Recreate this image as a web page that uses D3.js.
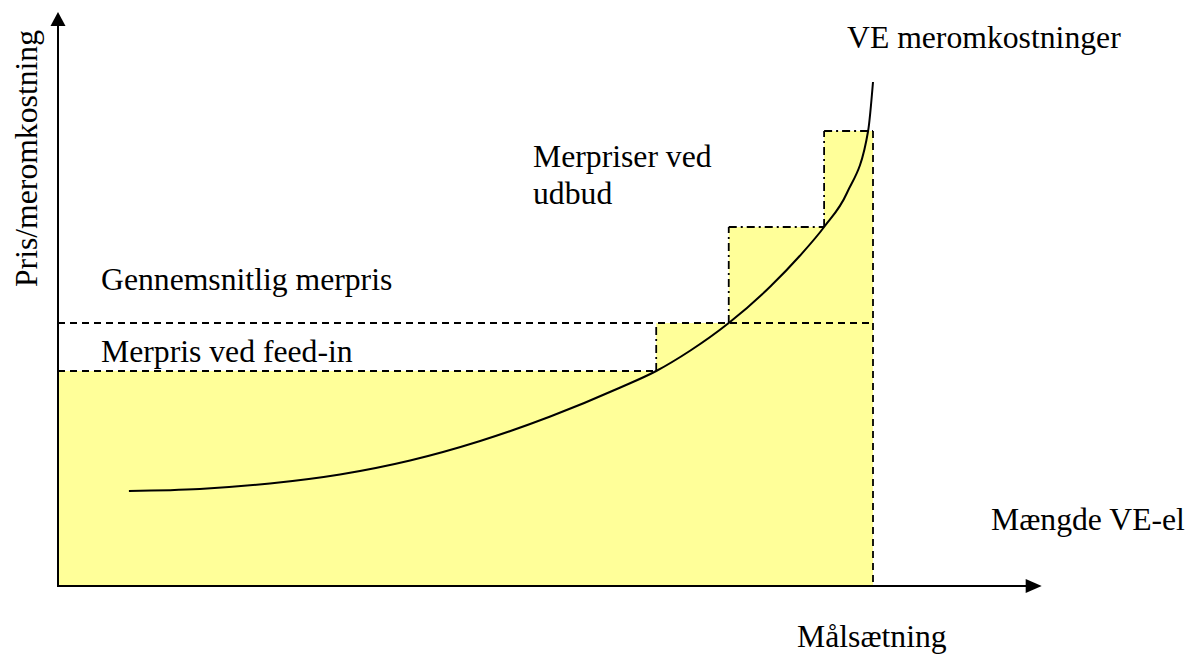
<!DOCTYPE html>
<html><head><meta charset="utf-8">
<script src="https://cdn.jsdelivr.net/npm/d3@7"></script>
<style>
html,body{margin:0;padding:0;background:#fff;}
svg text{font-family:"Liberation Serif","DejaVu Serif",serif;font-size:31.7px;fill:#000;}
</style></head>
<body><svg id="c" width="1195" height="657"></svg>
<script>
// Curve: VE meromkostninger (quantity, extra cost)
const curveX = [8.7, 17.4, 26.0, 34.6, 43.2, 51.8, 60.4, 69.0, 73.4, 77.6, 82.3, 87.4, 91.0, 94.0, 96.8, 99.4, 100];
const curveY = [19.0, 19.4, 20.5, 22.3, 25.1, 29.0, 33.9, 39.7, 43.0, 47.1, 52.6, 59.9, 66.0, 71.8, 78.6, 91.0, 100.8];
// Feed-in price and average price
const feedInPrice = 43;
const averagePrice = 52.6;
// Tender steps: start, end, price
const stepStart = [73.4, 82.3, 94];
const stepEnd   = [82.3, 94, 100];
const stepPrice = [52.6, 71.8, 91];
const target = 100;          // Målsætning
const feedInEnd = 73.4;
const axisMaxX = 120.7, axisMaxY = 114.8;
const labels = ["Pris/meromkostning","Mængde VE-el","Målsætning","VE meromkostninger","Merpriser ved","udbud","Gennemsnitlig merpris","Merpris ved feed-in"];

const svg = d3.select("#c");
const x = d3.scaleLinear().domain([0,100]).range([58,873]);
const y = d3.scaleLinear().domain([0,100]).range([586,86]);

// Yellow filled area
const fillPts = [[0,0],[0,feedInPrice],[feedInEnd,feedInPrice]];
stepStart.forEach((s,i)=>{ fillPts.push([s,stepPrice[i]]); fillPts.push([stepEnd[i],stepPrice[i]]); });
fillPts.push([target,0]);
svg.append("path")
  .attr("d", d3.line().x(d=>x(d[0])).y(d=>y(d[1]))(fillPts) + "Z")
  .attr("fill","#ffff99").attr("stroke","none");

const dashed = "7,5", dashDot = "8,4,2,4";
function seg(x0,y0,x1,y1,dash,w){
  svg.append("line").attr("x1",x(x0)).attr("y1",y(y0)).attr("x2",x(x1)).attr("y2",y(y1))
    .attr("stroke","#000").attr("stroke-width",w||1.8).attr("stroke-dasharray",dash);
}
seg(0,feedInPrice,feedInEnd,feedInPrice,dashed);
seg(0,averagePrice,target,averagePrice,dashed);
seg(stepStart[0],feedInPrice,stepStart[0],stepPrice[0],dashDot);
for(let i=1;i<stepStart.length;i++){
  seg(stepStart[i],stepPrice[i-1],stepStart[i],stepPrice[i],dashDot);
  seg(stepStart[i],stepPrice[i],stepEnd[i],stepPrice[i],dashDot);
}
seg(target,stepPrice[stepPrice.length-1],target,0,dashed);

// curve
svg.append("path")
  .attr("d", d3.line().x((d,i)=>x(curveX[i])).y((d,i)=>y(curveY[i])).curve(d3.curveMonotoneX)(curveX))
  .attr("fill","none").attr("stroke","#000").attr("stroke-width",2);

// axes
svg.append("line").attr("x1",x(0)).attr("y1",y(0)).attr("x2",x(0)).attr("y2",y(axisMaxY)+12)
  .attr("stroke","#000").attr("stroke-width",2);
svg.append("line").attr("x1",x(0)-1).attr("y1",y(0)).attr("x2",x(axisMaxX)-12).attr("y2",y(0))
  .attr("stroke","#000").attr("stroke-width",2);
const ty = y(axisMaxY), tx = x(axisMaxX);
svg.append("path").attr("d",`M${x(0)},${ty}L${x(0)-7.5},${ty+14}L${x(0)+7.5},${ty+14}Z`).attr("fill","#000");
svg.append("path").attr("d",`M${tx},${y(0)}L${tx-16},${y(0)-7}L${tx-16},${y(0)+7}Z`).attr("fill","#000");

// labels
function label(t, attrs){
  const el = svg.append("text").attr("font-family","Liberation Serif, serif").text(t);
  Object.entries(attrs).forEach(([k,v])=>el.attr(k,v));
}
label(labels[0], {transform:"translate(37,287) rotate(-90)"});
label(labels[1], {x:991, y:530});
label(labels[2], {x:797, y:647});
label(labels[3], {x:847, y:48});
label(labels[4], {x:533, y:167});
label(labels[5], {x:533, y:204});
label(labels[6], {x:101, y:290});
label(labels[7], {x:101, y:362});
</script></body></html>
